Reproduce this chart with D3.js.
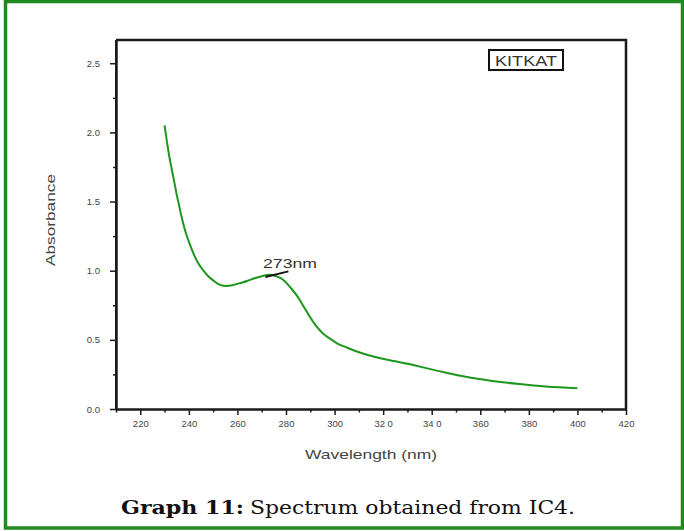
<!DOCTYPE html>
<html>
<head>
<meta charset="utf-8">
<script src="https://cdn.jsdelivr.net/npm/d3@7"></script>
<style>
  html, body { margin: 0; padding: 0; background: #fff; }
  svg { display: block; }
</style>
</head>
<body>
<svg id="chart" width="684" height="531"></svg>
<script>
// UV-Vis absorbance spectrum of the KITKAT sample
const wavelength = [230, 231, 232, 233, 234, 235, 236, 237, 238, 239, 240, 242, 244, 246, 248, 250, 252, 255, 258, 261, 264, 267, 270, 273, 276, 278, 280, 282, 284.5, 288, 292, 295, 298, 301, 305, 311, 318, 325, 332, 339, 346, 354, 365, 376, 387, 400];
const absorbance = [2.05, 1.93, 1.82, 1.73, 1.64, 1.55, 1.47, 1.39, 1.32, 1.26, 1.21, 1.12, 1.05, 1.00, 0.96, 0.93, 0.905, 0.89, 0.895, 0.91, 0.925, 0.945, 0.96, 0.97, 0.96, 0.945, 0.915, 0.875, 0.82, 0.72, 0.61, 0.55, 0.51, 0.475, 0.445, 0.405, 0.37, 0.345, 0.32, 0.29, 0.262, 0.233, 0.203, 0.18, 0.162, 0.15];

const xMajorTicks = [220, 240, 260, 280, 300, 320, 340, 360, 380, 400, 420];
const xTickLabels = ["220", "240", "260", "280", "300", "32 0", "34 0", "360", "380", "400", "420"];
const xMinorTicks = [210, 230, 250, 270, 290, 310, 330, 350, 370, 390, 410];
const yMajorTicks = [0, 0.5, 1.0, 1.5, 2.0, 2.5];
const yMinorTicks = [0.25, 0.75, 1.25, 1.75, 2.25];

const peakLabel = "273nm";
const peakMarkNm = [271.5, 281];
const peakMarkAbs = [0.955, 0.995];
const seriesName = "KITKAT";
const xTitle = "Wavelength (nm)";
const yTitle = "Absorbance";
const captionBold = "Graph 11:";
const captionText = "Spectrum obtained from IC4.";

const svg = d3.select("#chart");
const plot = { left: 116, right: 626, top: 40, bottom: 409 };

const x = d3.scaleLinear().domain([210, 420]).range([plot.left, plot.right]);
const y = d3.scaleLinear().domain([0, 2.668]).range([plot.bottom, plot.top]);

// outer green frame
svg.append("rect")
  .attr("x", 5.5).attr("y", 1.5)
  .attr("width", 677).attr("height", 526.5)
  .attr("fill", "none")
  .attr("stroke", "#1f8a1f")
  .attr("stroke-width", 3.5);

const axisColor = "#1a1a1a";
const labelColor = "#444";

// x axis: major ticks with labels, minor ticks without
svg.append("g")
  .attr("transform", `translate(0,${plot.bottom})`)
  .call(d3.axisBottom(x).tickValues(xMajorTicks)
    .tickFormat((d, i) => xTickLabels[i]).tickSize(6).tickSizeOuter(0).tickPadding(5));
svg.append("g")
  .attr("transform", `translate(0,${plot.bottom})`)
  .call(d3.axisBottom(x).tickValues(xMinorTicks).tickFormat("").tickSize(3.5).tickSizeOuter(0));

// y axis
svg.append("g")
  .attr("transform", `translate(${plot.left},0)`)
  .call(d3.axisLeft(y).tickValues(yMajorTicks)
    .tickFormat(d3.format(".1f")).tickSize(6).tickSizeOuter(0).tickPadding(10));
svg.append("g")
  .attr("transform", `translate(${plot.left},0)`)
  .call(d3.axisLeft(y).tickValues(yMinorTicks).tickFormat("").tickSize(3).tickSizeOuter(0));

svg.selectAll(".domain").attr("stroke", axisColor).attr("stroke-width", 2);
svg.selectAll(".tick line").attr("stroke", axisColor).attr("stroke-width", 1.5);
svg.selectAll(".tick text")
  .attr("fill", labelColor)
  .style("font-family", "Arial, 'Liberation Sans', sans-serif")
  .style("font-size", "9.5px");

// top and right frame lines
svg.append("path")
  .attr("d", `M${plot.left},${plot.top}H${plot.right}V${plot.bottom}`)
  .attr("fill", "none")
  .attr("stroke", axisColor)
  .attr("stroke-width", 2.5);
svg.append("path")
  .attr("d", `M${plot.left},${plot.top}V${plot.bottom}`)
  .attr("fill", "none")
  .attr("stroke", axisColor)
  .attr("stroke-width", 2);

// spectrum curve
const line = d3.line()
  .x((d, i) => x(wavelength[i]))
  .y(d => y(d))
  .curve(d3.curveMonotoneX);
svg.append("path")
  .datum(absorbance)
  .attr("d", line)
  .attr("fill", "none")
  .attr("stroke", "#1e961e")
  .attr("stroke-width", 2);

// peak annotation
svg.append("path")
  .datum(peakMarkAbs)
  .attr("d", d3.line().x((d, i) => x(peakMarkNm[i])).y(d => y(d)))
  .attr("stroke", "#111")
  .attr("stroke-width", 2)
  .attr("fill", "none");
svg.append("text")
  .attr("x", x(273) - 6)
  .attr("y", y(1.0) - 2.5)
  .attr("textLength", 54)
  .attr("lengthAdjust", "spacingAndGlyphs")
  .attr("fill", "#333")
  .style("font-family", "Arial, 'Liberation Sans', sans-serif")
  .style("font-size", "12.5px")
  .text(peakLabel);

// series label box
const boxX = 489, boxY = 50, boxW = 74, boxH = 20;
svg.append("rect")
  .attr("x", boxX).attr("y", boxY)
  .attr("width", boxW).attr("height", boxH)
  .attr("fill", "#fff")
  .attr("stroke", "#111")
  .attr("stroke-width", 2);
svg.append("text")
  .attr("x", boxX + boxW / 2)
  .attr("y", boxY + 15.5)
  .attr("text-anchor", "middle")
  .attr("textLength", 62)
  .attr("lengthAdjust", "spacingAndGlyphs")
  .attr("fill", "#333")
  .style("font-family", "Arial, 'Liberation Sans', sans-serif")
  .style("font-size", "14px")
  .text(seriesName);

// axis titles
svg.append("text")
  .attr("x", (plot.left + plot.right) / 2)
  .attr("y", 459)
  .attr("text-anchor", "middle")
  .attr("textLength", 132)
  .attr("lengthAdjust", "spacingAndGlyphs")
  .attr("fill", "#444")
  .style("font-family", "Arial, 'Liberation Sans', sans-serif")
  .style("font-size", "13px")
  .text(xTitle);
svg.append("text")
  .attr("transform", "translate(55,220) rotate(-90)")
  .attr("text-anchor", "middle")
  .attr("textLength", 92)
  .attr("lengthAdjust", "spacingAndGlyphs")
  .attr("fill", "#444")
  .style("font-family", "Arial, 'Liberation Sans', sans-serif")
  .style("font-size", "13px")
  .text(yTitle);

// caption
const cap = svg.append("text")
  .attr("y", 514)
  .attr("fill", "#111")
  .style("font-family", "'DejaVu Serif', 'Liberation Serif', serif")
  .style("font-size", "18px");
cap.append("tspan")
  .attr("x", 121)
  .attr("font-weight", "bold")
  .attr("textLength", 123)
  .attr("lengthAdjust", "spacingAndGlyphs")
  .text(captionBold);
cap.append("tspan")
  .attr("x", 250)
  .attr("textLength", 325)
  .attr("lengthAdjust", "spacingAndGlyphs")
  .text(captionText);
</script>
</body>
</html>
